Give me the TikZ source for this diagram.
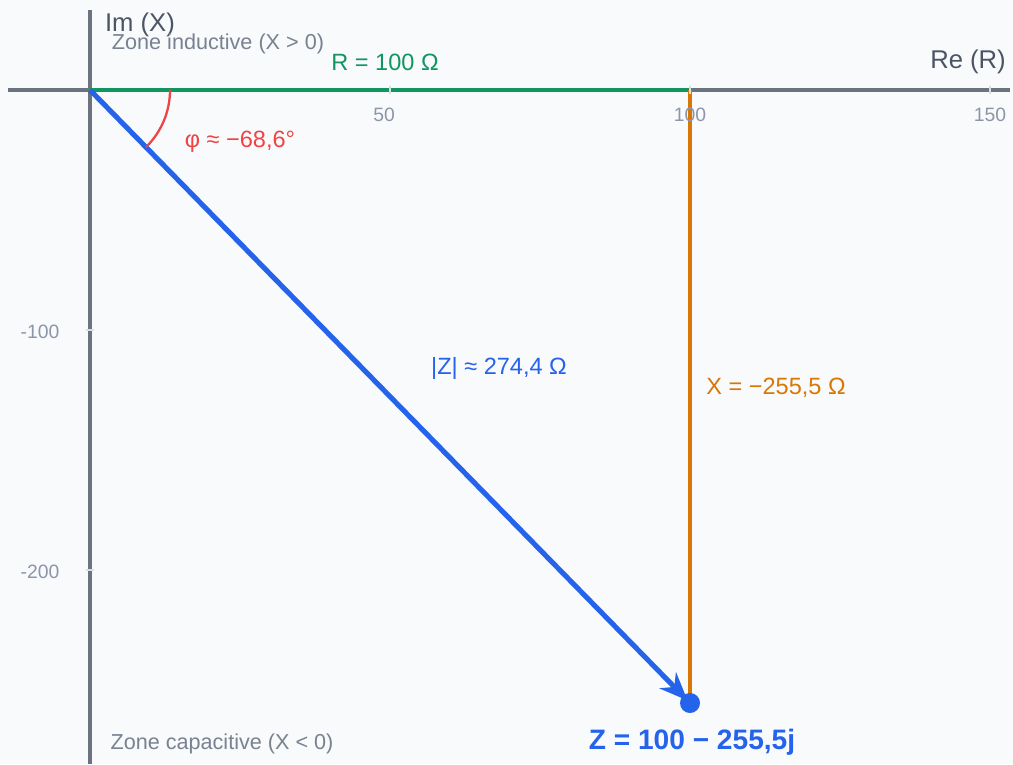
\documentclass[tikz,border=0pt]{standalone}
\usepackage{fontspec}
\setmainfont{Liberation Sans}
\usetikzlibrary{arrows.meta, positioning}
\definecolor{bgc}{RGB}{248,250,252}
\definecolor{axisc}{RGB}{107,114,128}
\definecolor{axislab}{RGB}{75,85,99}
\definecolor{zonec}{RGB}{120,130,145}
\definecolor{tickc}{RGB}{140,150,168}
\definecolor{resc}{RGB}{16,150,96}
\definecolor{reac}{RGB}{217,119,6}
\definecolor{impc}{RGB}{37,99,235}
\definecolor{angc}{RGB}{239,68,68}
\tikzset{
  ticklab/.style={font=\fontsize{11}{13}\selectfont, tickc, inner sep=0pt},
  zonelab/.style={font=\fontsize{12.3}{14}\selectfont, zonec, inner sep=0pt},
  axislabel/.style={font=\fontsize{14.6}{17}\selectfont, axislab, inner sep=0pt},
  vallab/.style={font=\fontsize{13.4}{16}\selectfont, inner sep=0pt},
  tickmark/.style={white!75!axisc, line width=0.8pt}
}

\begin{document}
\begin{tikzpicture}[x=0.02cm, y=-0.02cm]
			% background, fixes the margins
			\fill[bgc] (0,0) rectangle (1013,764);
			\useasboundingbox (0,0) rectangle (1013,764);
			% key points: origin, end of R, point Z
			\coordinate (O) at (90,90);
			\coordinate (Rend) at (690,90);
			\coordinate (Zpt) at (690,703);
			\coordinate (xL) at (8,90);
			\coordinate (xR) at (1010,90);
			\coordinate (yT) at (90,10);
			\coordinate (yB) at (90,764);
			% axes
			\draw[axisc, line width=2pt] (xL) -- (xR);
			\draw[axisc, line width=2pt] (yT) -- (yB);
			% resistance and reactance
			\draw[resc, line width=2.1pt] (O) -- (Rend);
			\draw[reac, line width=2.1pt] (Rend) -- (Zpt);
			% ticks
			\foreach \tx in {390,690,990}
				\draw[tickmark] (\tx,86) -- (\tx,94);
			\foreach \ty in {330,570}
				\draw[tickmark] (86,\ty) -- (94,\ty);
			\node[ticklab] (t50) at (384,115) {50};
			\node[ticklab] (t100) at (690,115) {100};
			\node[ticklab] (t150) at (990,115) {150};
			\node[ticklab] (tm100) at (40,332) {-100};
			\node[ticklab] (tm200) at (40,572) {-200};
			% impedance vector
			\draw[impc, line width=2.9pt, -{Stealth[length=16pt, width=13pt]}, shorten >=2pt] (O) -- (Zpt);
			\fill[impc] (Zpt) circle[radius=10];
			% angle phi
			\draw[angc, line width=1.3pt] (170,90) arc[start angle=0, end angle=45.6, radius=80];
			% axis labels
			\node[axislabel] (imlab) at (140,25) {Im (X)};
			\node[axislabel] (relab) at (968,62) {Re (R)};
			\node[zonelab] (zind) at (218,44) {Zone inductive (X > 0)};
			\node[zonelab] (zcap) at (222,744) {Zone capacitive (X < 0)};
			% values
			\node[vallab, resc] (rlab) at (385,62) {R = 100 Ω};
			\node[vallab, angc] (philab) at (240,142) {φ ≈ −68,6°};
			\node[vallab, impc] (zmod) at (499,368) {|Z| ≈ 274,4 Ω};
			\node[vallab, reac, anchor=west] (xlab) at (706,388) {X = −255,5 Ω};
			\node[font=\fontsize{16}{19}\selectfont\bfseries, impc, inner sep=0pt] (zlab) at (692,742) {Z = 100 − 255,5j};
		\end{tikzpicture}
\end{document}
